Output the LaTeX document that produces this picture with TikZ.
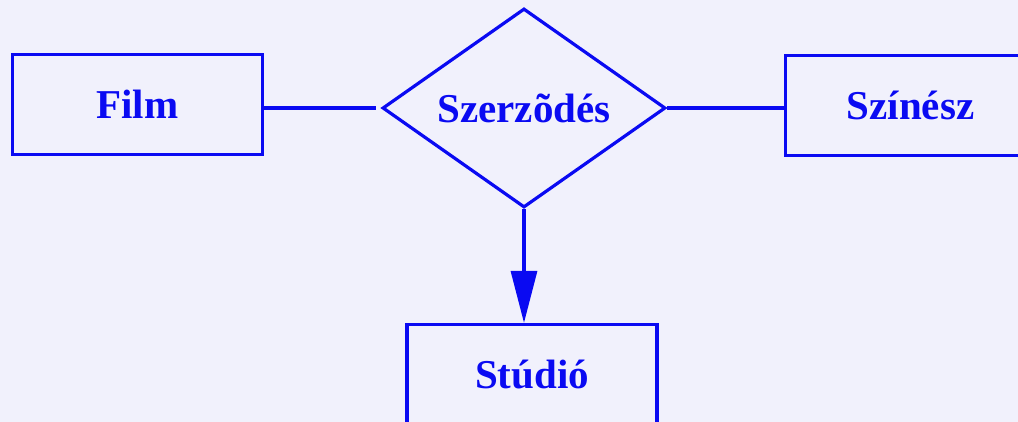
\documentclass[tikz,border=0pt]{standalone}
\usepackage{fontspec}
\setmainfont{Liberation Serif}
\usepackage{tikz}
\usetikzlibrary{shapes.geometric,arrows.meta}
\definecolor{erblue}{HTML}{0A0AF2}
\definecolor{lightlavender}{HTML}{F1F1FC}
\tikzstyle{entity} = [rectangle, draw=erblue, line width=3.2pt, text=erblue, font=\fontsize{41}{48}\selectfont\bfseries, minimum width=250pt, minimum height=100pt, inner sep=0pt]
\tikzstyle{relation} = [diamond, aspect=1.4, draw=erblue, line width=3.2pt, text=erblue, font=\fontsize{41}{48}\selectfont\bfseries, minimum width=283pt, minimum height=199pt, inner sep=0pt]
\tikzstyle{line} = [draw=erblue, line width=3.2pt]
\tikzstyle{arrowline} = [draw=erblue, line width=3.2pt, -{Triangle[length=52pt,width=26pt]}]

\begin{document}
\begin{tikzpicture}
        % Background and page size
        \path [use as bounding box, fill=lightlavender] (-524pt,108pt) rectangle (494pt,-314pt);
        % Place nodes
        \node [relation] (szerz) {Szerzõdés};
        \node [entity, left of=szerz, node distance=386.5pt, yshift=3.5pt] (film) {Film};
        \node [entity, right of=szerz, node distance=386.5pt, yshift=2.5pt] (szinesz) {Színész};
        \node [entity, below of=szerz, node distance=266.5pt, xshift=8pt] (studio) {Stúdió};
        % Draw edges
        \path [line, shorten >=5pt] (szerz.west -| film.east) -- (szerz.west);
        \path [line] (szerz.east) -- (szerz.east -| szinesz.west);
        \path [arrowline] (szerz.south) -- (szerz.south |- studio.north);
    \end{tikzpicture}
\end{document}
